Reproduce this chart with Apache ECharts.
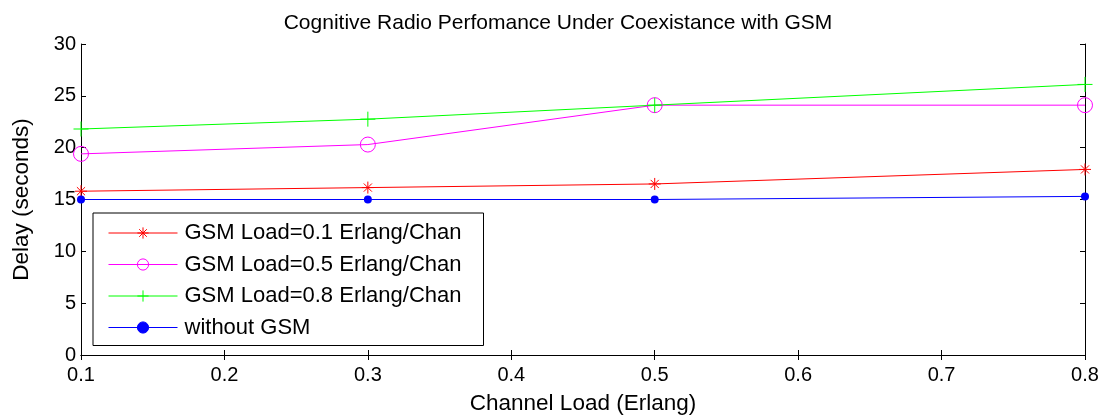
<!DOCTYPE html>
<html>
<head>
<meta charset="utf-8">
<script src="https://cdn.jsdelivr.net/npm/echarts@6/dist/echarts.min.js"></script>
<style>
  html, body { margin: 0; padding: 0; background: #fff; }
  #chart { width: 1116px; height: 420px; }
</style>
</head>
<body>
<div id="chart"></div>
<script>
// Channel load (Erlang) on the x axis
const channelLoad = [0.1, 0.3, 0.5, 0.8];

// Mean delay (seconds) for each GSM load case
const gsmLoad01 = [15.8, 16.15, 16.5, 17.9];
const gsmLoad05 = [19.4, 20.3, 24.1, 24.1];
const gsmLoad08 = [21.8, 22.75, 24.1, 26.1];
const withoutGsm = [15.0, 15.0, 15.0, 15.3];

const seriesNames = [
  'GSM Load=0.1 Erlang/Chan',
  'GSM Load=0.5 Erlang/Chan',
  'GSM Load=0.8 Erlang/Chan',
  'without GSM'
];

const FONT = 'Liberation Sans, Arial, sans-serif';

// Stroke-only marker shapes
const STAR = 'path://M5,0L5,10M0,5L10,5M1.6,1.6L8.4,8.4M8.4,1.6L1.6,8.4';
const PLUS = 'path://M5,0L5,10M0,5L10,5';

function pairs(ys) {
  return channelLoad.map((x, i) => [x, ys[i]]);
}

function lineSeries(name, ys, color, symbol, size, extra) {
  return Object.assign({
    name: name,
    type: 'line',
    data: pairs(ys),
    symbol: symbol,
    symbolSize: size,
    symbolKeepAspect: true,
    showAllSymbol: true,
    lineStyle: { color: color, width: 1 },
    itemStyle: { color: color, borderColor: color, borderWidth: 1 },
    emphasis: { disabled: true },
    animation: false
  }, extra || {});
}

const chart = echarts.init(document.getElementById('chart'), null, { renderer: 'canvas' });

const tickStyle = { inside: true, length: 5, lineStyle: { color: '#000', width: 1 } };
const axisLine = { show: true, lineStyle: { color: '#000', width: 1 } };

chart.setOption({
  backgroundColor: '#fff',
  animation: false,
  title: {
    text: 'Cognitive Radio Perfomance Under Coexistance with GSM',
    left: 'center',
    top: 8,
    textStyle: { fontFamily: FONT, fontSize: 21, fontWeight: 'normal', color: '#000' }
  },
  grid: { left: 81, right: 31, top: 44, bottom: 64, containLabel: false },
  legend: {
    orient: 'vertical',
    left: 93,
    top: 213,
    itemWidth: 69,
    itemHeight: 14,
    itemGap: 9.5,
    padding: [9, 22, 7, 15],
    backgroundColor: '#fff',
    borderColor: '#000',
    borderWidth: 1,
    selectedMode: false,
    lineStyle: { width: 1 },
    itemStyle: { borderWidth: 1 },
    textStyle: { fontFamily: FONT, fontSize: 22, color: '#000', padding: [0, 0, 0, 2] },
    data: seriesNames
  },
  xAxis: [
    {
      type: 'value',
      min: 0.1, max: 0.8, interval: 0.1,
      name: 'Channel Load (Erlang)',
      nameLocation: 'middle',
      nameGap: 37,
      nameTextStyle: { fontFamily: FONT, fontSize: 22.5, color: '#000' },
      axisLine: axisLine,
      axisTick: tickStyle,
      splitLine: { show: false },
      axisLabel: {
        fontFamily: FONT, fontSize: 20, color: '#000', margin: 10,
        formatter: v => v.toFixed(1)
      }
    },
    {
      type: 'value', position: 'top',
      min: 0.1, max: 0.8, interval: 0.1,
      axisLine: axisLine, axisTick: tickStyle,
      axisLabel: { show: false }, splitLine: { show: false }
    }
  ],
  yAxis: [
    {
      type: 'value',
      min: 0, max: 30, interval: 5,
      name: 'Delay (seconds)',
      nameLocation: 'middle',
      nameGap: 48,
      nameTextStyle: { fontFamily: FONT, fontSize: 22.5, color: '#000' },
      axisLine: axisLine,
      axisTick: tickStyle,
      splitLine: { show: false },
      axisLabel: { fontFamily: FONT, fontSize: 20, color: '#000', margin: 5 }
    },
    {
      type: 'value', position: 'right',
      min: 0, max: 30, interval: 5,
      axisLine: axisLine, axisTick: tickStyle,
      axisLabel: { show: false }, splitLine: { show: false }
    }
  ],
  series: [
    lineSeries(seriesNames[0], gsmLoad01, '#ff0000', STAR, 12),
    lineSeries(seriesNames[1], gsmLoad05, '#ff00ff', 'circle', 15,
      { itemStyle: { color: 'rgba(0,0,0,0)', borderColor: '#ff00ff', borderWidth: 1 } }),
    lineSeries(seriesNames[2], gsmLoad08, '#00ff00', PLUS, 15),
    lineSeries(seriesNames[3], withoutGsm, '#0000ff', 'circle', 8,
      { itemStyle: { color: '#0000ff', borderColor: '#0000ff', borderWidth: 0 } })
  ]
});
</script>
</body>
</html>
